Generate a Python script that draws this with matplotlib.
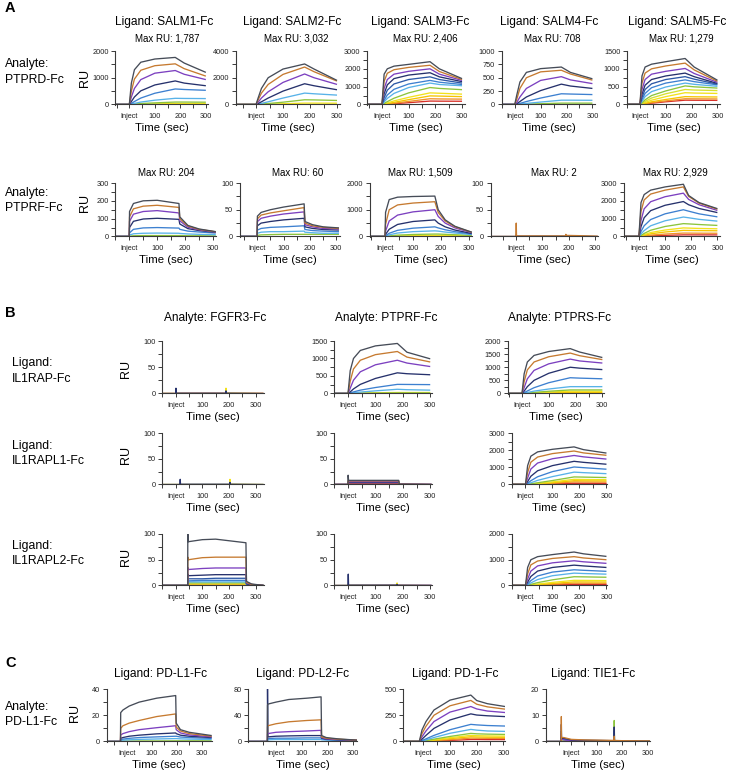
import matplotlib
matplotlib.use('Agg')
import matplotlib.pyplot as plt
from matplotlib.ticker import MultipleLocator, FixedLocator

plt.rcParams['font.family'] = ['Liberation Sans', 'DejaVu Sans']

W, H = 739, 771
BASELINE = 0

PAL = {'k': '#464c58', 'o': '#c67a30', 'p': '#7c40c0', 'n': '#26316c', 'd': '#2d58a6',
       'b': '#3d80d0', 'l': '#58b2e8', 'g': '#8cc43c', 'v': '#d6e030', 'y': '#f2e21c',
       'u': '#f5c400', 'r': '#f0932a', 'R': '#d83028', 'D': '#a01818'}

# ---------------- data: section A (analyte PTPRD-Fc) ----------------
t_kin = [0, 8, 20, 45, 100, 180, 215, 300]
t_kin5 = [0, 8, 20, 45, 100, 175, 210, 300]

salm1_ptprd = [
    [0, 800, 1300, 1580, 1700, 1760, 1550, 1200],
    [0, 500, 950, 1280, 1450, 1520, 1340, 1060],
    [0, 280, 600, 930, 1170, 1270, 1130, 930],
    [0, 110, 280, 510, 730, 880, 800, 700],
    [0, 40, 110, 240, 420, 580, 560, 530],
    [0, 15, 40, 90, 160, 230, 225, 220],
    [0, 6, 15, 35, 60, 90, 90, 85],
    [0, 2, 5, 12, 22, 35, 35, 35]]
salm2_ptprd = [
    [0, 500, 1200, 2000, 2650, 3030, 2650, 1800],
    [0, 350, 850, 1500, 2250, 2800, 2450, 1750],
    [0, 180, 480, 950, 1650, 2280, 2000, 1500],
    [0, 70, 200, 480, 1000, 1550, 1400, 1100],
    [0, 30, 80, 200, 480, 850, 800, 700],
    [0, 10, 30, 70, 170, 350, 340, 300],
    [0, 3, 10, 25, 55, 100, 100, 95]]
salm3_ptprd = [
    [0, 1700, 2000, 2150, 2250, 2400, 2000, 1450],
    [0, 1300, 1750, 1950, 2080, 2200, 1850, 1400],
    [0, 900, 1400, 1700, 1860, 2000, 1700, 1350],
    [0, 600, 1100, 1450, 1650, 1780, 1550, 1280],
    [0, 380, 800, 1150, 1400, 1550, 1400, 1200],
    [0, 230, 530, 850, 1150, 1350, 1250, 1120],
    [0, 140, 340, 620, 950, 1200, 1120, 1050],
    [0, 60, 160, 350, 650, 950, 900, 830],
    [0, 30, 85, 200, 400, 650, 630, 580],
    [0, 18, 50, 120, 270, 480, 470, 440],
    [0, 10, 30, 70, 170, 320, 310, 300],
    [0, 6, 16, 40, 100, 190, 185, 180]]
salm4_ptprd = [
    [0, 180, 420, 600, 670, 700, 600, 480],
    [0, 100, 300, 500, 610, 640, 570, 455],
    [0, 40, 140, 300, 450, 520, 460, 390],
    [0, 15, 55, 140, 260, 380, 345, 300],
    [0, 5, 20, 55, 120, 200, 195, 185],
    [0, 2, 7, 20, 45, 80, 80, 78],
    [0, 1, 2, 6, 14, 25, 25, 25]]
salm5_ptprd = [
    [0, 800, 1050, 1130, 1200, 1290, 1050, 680],
    [0, 600, 880, 1000, 1080, 1160, 970, 650],
    [0, 420, 700, 850, 930, 1010, 870, 620],
    [0, 290, 540, 700, 800, 880, 780, 590],
    [0, 200, 420, 580, 700, 780, 710, 570],
    [0, 140, 310, 470, 600, 690, 640, 550],
    [0, 90, 220, 360, 490, 600, 565, 510],
    [0, 50, 130, 250, 380, 520, 495, 460],
    [0, 32, 85, 180, 300, 420, 405, 390],
    [0, 20, 55, 120, 220, 330, 320, 310],
    [0, 12, 32, 75, 140, 220, 215, 210],
    [0, 8, 22, 50, 100, 160, 158, 155],
    [0, 5, 14, 35, 75, 120, 118, 115]]

# ---------------- data: section A (analyte PTPRF-Fc) ----------------
t_sq = [0, 1, 15, 50, 100, 178, 181, 210, 250, 310]
t_sq3 = [0, 2, 15, 45, 100, 178, 190, 215, 250, 310]
t_s4 = [0, 1, 2, 188, 189, 190, 240, 310]
t_s5 = [0, 8, 20, 45, 100, 170, 190, 230, 300]

salm1_ptprf = [
    [0, 140, 185, 200, 203, 185, 110, 62, 42, 27],
    [0, 110, 155, 170, 175, 163, 100, 58, 40, 26],
    [0, 85, 125, 140, 145, 132, 88, 52, 37, 25],
    [0, 50, 85, 98, 102, 96, 70, 44, 33, 23],
    [0, 20, 40, 48, 50, 47, 40, 30, 25, 19],
    [0, 8, 15, 18, 19, 18, 17, 14, 12, 10],
    [0, 2, 4, 5, 5, 5, 5, 4, 4, 3]]
salm2_ptprf = [
    [0, 38, 45, 50, 55, 61, 28, 22, 18, 16],
    [0, 33, 40, 44, 48, 54, 25, 20, 17, 15],
    [0, 28, 34, 38, 42, 46, 22, 18, 15, 14],
    [0, 20, 25, 28, 31, 34, 18, 15, 13, 12],
    [0, 12, 15, 17, 18, 20, 13, 11, 10, 9],
    [0, 6, 8, 9, 9, 10, 8, 7, 6, 6],
    [0, 2, 3, 3.5, 4, 4, 4, 4, 4, 4]]
salm3_ptprf = [
    [0, 900, 1380, 1470, 1495, 1510, 1000, 620, 380, 160],
    [0, 450, 1000, 1180, 1250, 1300, 900, 580, 360, 155],
    [0, 200, 580, 800, 920, 1000, 750, 500, 320, 140],
    [0, 80, 270, 450, 560, 620, 500, 360, 240, 110],
    [0, 30, 120, 230, 310, 360, 320, 250, 180, 90],
    [0, 15, 60, 130, 180, 210, 200, 165, 130, 70],
    [0, 5, 20, 50, 75, 90, 90, 80, 65, 40],
    [0, 2, 8, 20, 30, 40, 40, 37, 32, 22]]
salm4_ptprf = [
    [0, 25, 1, 1, 4, 2, 1.5, 0.5],
    [0, 3, 0.5, 0.5, 2, 1, 0.5, 0]]
salm5_ptprf = [
    [0, 1900, 2350, 2600, 2780, 2930, 2300, 1900, 1560],
    [0, 1400, 2050, 2380, 2600, 2780, 2250, 1870, 1530],
    [0, 900, 1550, 1950, 2230, 2430, 2080, 1780, 1460],
    [0, 550, 1050, 1450, 1750, 1960, 1780, 1570, 1340],
    [0, 280, 600, 950, 1270, 1500, 1420, 1270, 1100],
    [0, 140, 330, 600, 880, 1090, 1050, 960, 860],
    [0, 60, 170, 350, 560, 720, 705, 670, 620],
    [0, 35, 100, 220, 360, 480, 470, 450, 430],
    [0, 22, 65, 150, 250, 340, 335, 328, 320],
    [0, 10, 32, 75, 135, 190, 188, 184, 180],
    [0, 4, 14, 32, 62, 90, 90, 89, 88]]

# ---------------- data: section B ----------------
t_f1 = [0, 1, 2, 188, 189, 190, 330]
t_f2 = [16, 17, 18, 203, 204, 205, 330]
t_f3 = [45, 45.5, 47, 100, 150, 264, 266, 285, 330]
t_p2 = [0, 0.5, 2, 185, 187, 305]
t_p3 = [0, 1, 2, 178, 179, 180, 305]

fgfr3_il1rap = [
    [0, 10, 0.5, 0.5, 5, 0.5, 0],
    [0, 2, 0, 0, 10, 0.5, 0],
    [0, 1, 0.3, 0.3, 1, 0.3, 0.2]]
ptprf_il1rap = [
    [0, 650, 1000, 1230, 1360, 1430, 1180, 990],
    [0, 350, 700, 950, 1110, 1200, 1040, 900],
    [0, 150, 380, 620, 820, 950, 870, 770],
    [0, 45, 130, 260, 430, 590, 565, 535],
    [0, 15, 45, 95, 170, 260, 258, 253],
    [0, 6, 18, 40, 75, 120, 108, 95],
    [0, 1, 3, 7, 11, 15, 15, 15],
    [0, 2, 6, 12, 20, 28, 28, 28]]
ptprs_il1rap = [
    [0, 750, 1200, 1450, 1600, 1710, 1580, 1370],
    [0, 450, 900, 1200, 1400, 1540, 1440, 1290],
    [0, 220, 560, 880, 1130, 1310, 1240, 1160],
    [0, 90, 260, 500, 770, 1000, 965, 910],
    [0, 30, 95, 220, 410, 600, 585, 560],
    [0, 12, 38, 90, 170, 260, 260, 260],
    [0, 5, 15, 40, 85, 135, 135, 135],
    [0, 3, 10, 25, 55, 85, 85, 85],
    [0, 1, 4, 10, 25, 40, 40, 40]]
fgfr3_il1rapl1 = [
    [0, 10, 0.5, 0.5, 4, 0.5, 0],
    [0, 2, 0, 0, 10, 0.5, 0]]
ptprf_il1rapl1 = [
    [0, 18, 8, 8, 0.5, 0],
    [0, 8, 7, 7, 0.5, 0],
    [0, 6, 5.5, 5.5, 0.5, 0],
    [0, 5, 4.5, 4.5, 0.5, 0],
    [0, 4, 3.5, 3.5, 0.3, 0],
    [0, 2.5, 2, 2, 0.2, 0]]
ptprs_il1rapl1 = [
    [0, 1100, 1650, 1900, 2050, 2190, 2030, 1830],
    [0, 700, 1300, 1600, 1800, 1950, 1840, 1700],
    [0, 380, 900, 1250, 1500, 1690, 1610, 1480],
    [0, 170, 480, 800, 1100, 1350, 1290, 1180],
    [0, 70, 220, 450, 750, 1020, 980, 890],
    [0, 30, 100, 240, 460, 720, 690, 630],
    [0, 12, 40, 100, 230, 440, 430, 405],
    [0, 7, 25, 60, 150, 300, 290, 278],
    [0, 5, 17, 42, 110, 220, 215, 210],
    [0, 3, 11, 27, 70, 150, 145, 140],
    [0, 1, 5, 13, 35, 75, 73, 70],
    [0, 1, 3, 7, 18, 37, 36, 35]]
fgfr3_il1rapl2 = [
    [0, 100, 85, 89, 90, 83, 8, 3, 0],
    [0, 55, 50, 54, 55, 55, 6, 2, 0],
    [0, 35, 31, 33, 34, 34, 5, 2, 0],
    [0, 22, 19, 20, 21, 21, 4, 1, 0],
    [0, 15, 13, 13, 14, 14, 3, 1, 0],
    [0, 11, 9, 10, 10, 10, 3, 1, 0],
    [0, 8, 7, 7, 7, 7, 2, 1, 0],
    [0, 6, 5, 5, 5, 5, 2, 1, 0],
    [0, 4, 3, 3, 3, 3, 1, 0, 0],
    [0, 3, 2, 2, 2, 2, 1, 0, 0],
    [0, 2, 1, 1, 1, 1, 0, 0, 0]]
ptprf_il1rapl2 = [
    [0, 22, 0.5, 0.5, 2, 0.3, 0],
    [0, 3, 0.3, 0.3, 5, 0.3, 0],
    [0, 2, 0.5, 0.8, 1, 0.8, 0.6]]
ptprs_il1rapl2 = [
    [0, 700, 1000, 1120, 1200, 1300, 1230, 1130],
    [0, 450, 800, 950, 1050, 1120, 1070, 1000],
    [0, 250, 560, 760, 880, 960, 920, 860],
    [0, 130, 350, 560, 700, 790, 760, 700],
    [0, 60, 190, 370, 520, 610, 590, 550],
    [0, 30, 100, 230, 380, 480, 465, 440],
    [0, 12, 45, 110, 220, 340, 335, 320],
    [0, 6, 22, 55, 120, 200, 198, 190],
    [0, 4, 14, 35, 80, 140, 138, 135],
    [0, 3, 9, 22, 50, 90, 88, 86],
    [0, 1, 5, 12, 28, 50, 50, 49],
    [0, 1, 3, 7, 15, 28, 28, 27]]

# ---------------- data: section C (analyte PD-L1-Fc) ----------------
t_c1 = [-25, -24, -15, 10, 50, 120, 196, 198, 215, 250, 340]
t_c2 = [-33, -32.5, -31, 0, 50, 120, 175, 177, 195, 240, 315]
t_c3 = [-15, -5, 10, 40, 100, 178, 200, 240, 306]
t_c4 = [-40, -39.5, -39, -30, 0, 50, 168, 169, 170, 200, 310]

pdl1_pdl1 = [
    [0, 22, 24, 27, 30, 33, 35, 14, 9, 7, 4.5],
    [0, 10, 12, 14, 16, 19, 21, 11, 8, 6, 4],
    [0, 5, 6, 7.5, 9, 10.5, 12, 9, 6.5, 5, 3.5],
    [0, 2.5, 3, 4, 4.8, 5.8, 6.5, 6, 4.8, 4, 3],
    [0, 1.5, 1.8, 2.4, 3, 3.5, 4, 4, 3.4, 3, 2.3],
    [0, 0.8, 1, 1.3, 1.6, 1.9, 2.2, 2.2, 2, 1.8, 1.5],
    [0, 0.2, 0.3, 0.3, 0.4, 0.4, 0.5, 0.5, 0.5, 0.5, 0.5]]
pdl2_pdl1 = [
    [0, 55, 57, 60, 64, 66, 68, 9, 6, 4, 2],
    [0, 22, 24, 27, 30, 32, 33, 7, 5, 3.5, 2],
    [0, 11, 12, 14, 15, 16, 17, 6, 4, 3, 1.8],
    [0, 80, 7, 8, 8.5, 9, 9, 5, 3.5, 2.5, 1.5],
    [0, 4, 4.5, 5, 5, 5.5, 5.5, 4, 3, 2, 1.2],
    [0, 2, 2.5, 3, 3, 3, 3, 2.5, 2, 1.5, 1]]
pd1_pdl1 = [
    [0, 110, 190, 300, 394, 442, 390, 360, 333],
    [0, 75, 145, 250, 340, 391, 355, 330, 308],
    [0, 45, 100, 190, 280, 333, 310, 290, 276],
    [0, 22, 58, 125, 205, 263, 252, 245, 237],
    [0, 9, 25, 58, 112, 163, 158, 152, 147],
    [0, 5, 15, 38, 78, 115, 108, 100, 96],
    [0, 3, 9, 22, 48, 77, 73, 70, 67],
    [0, 2, 6, 16, 36, 58, 55, 53, 51],
    [0, 1.5, 4.5, 11, 27, 45, 43, 41, 40],
    [0, 1, 3, 7, 17, 32, 31, 30, 29],
    [0, 0.5, 1.5, 4, 10, 19, 19, 18, 18]]
tie1_pdl1 = [
    [0, 9.5, 1.5, 1.5, 0.8, 0.6, 0.4, 2, 0.4, 0.3, 0.2],
    [0, 6.5, 1.2, 1.2, 0.6, 0.5, 0.3, 5.5, 0.3, 0.2, 0.1],
    [0, 3, 0.8, 0.6, 0.3, 0.2, 0.2, 1, 0.2, 0.1, 0],
    [0, 4, 1, 0.8, 0.4, 0.3, 0.2, 4, 0.2, 0.1, 0],
    [0, 2, 0.5, 0.5, 0.3, 0.2, 0.2, 8, 0.2, 0.1, 0.1]]

ligands_a = ['SALM1-Fc', 'SALM2-Fc', 'SALM3-Fc', 'SALM4-Fc', 'SALM5-Fc']
maxru_ptprd = ['1,787', '3,032', '2,406', '708', '1,279']
maxru_ptprf = ['204', '60', '1,509', '2', '2,929']
analytes_b = ['FGFR3-Fc', 'PTPRF-Fc', 'PTPRS-Fc']
ligands_b = ['IL1RAP-Fc', 'IL1RAPL1-Fc', 'IL1RAPL2-Fc']
ligands_c = ['PD-L1-Fc', 'PD-L2-Fc', 'PD-1-Fc', 'TIE1-Fc']

# ---------------- drawing ----------------
fig = plt.figure(figsize=(W / 100, H / 100), dpi=100)
fig.patch.set_facecolor('white')

AX_COL = '#3a3a3a'


def ftext(x, y, s, **kw):
    kw.setdefault('ha', 'center')
    kw.setdefault('va', 'center')
    return fig.text(x / W, 1 - y / H, s, **kw)


def panel(x0, x1, y0, y1, xlim, ymax, ymaj, ymin, t, curves, cols):
    ax = fig.add_axes([x0 / W, 1 - y1 / H, (x1 - x0) / W, (y1 - y0) / H])
    ax.patch.set_alpha(0)
    for v, c in reversed(list(zip(curves, cols))):
        ax.plot([xlim[0] - 5] + list(t), [BASELINE] + list(v), color=PAL[c],
                lw=0.95, solid_joinstyle='round', solid_capstyle='butt')
    ax.set_xlim(*xlim)
    ax.set_ylim(-0.01 * ymax, ymax)
    for s in ['top', 'right']:
        ax.spines[s].set_visible(False)
    ax.spines['bottom'].set_position(('data', 0))
    for s in ['left', 'bottom']:
        ax.spines[s].set_color(AX_COL)
        ax.spines[s].set_linewidth(0.8)
    ax.xaxis.set_major_locator(FixedLocator([0, 100, 200, 300]))
    ax.set_xticklabels(['Inject', '100', '200', '300'])
    ax.xaxis.set_minor_locator(FixedLocator([m for m in (-50, 50, 150, 250) if m >= xlim[0]]))
    ax.yaxis.set_major_locator(MultipleLocator(ymaj))
    if ymin:
        ax.yaxis.set_minor_locator(MultipleLocator(ymin))
    ax.tick_params(which='both', direction='out', length=2.6, width=0.7, color=AX_COL,
                   labelsize=5.3, pad=2.2, labelcolor='#222222')
    ax.tick_params(axis='x', which='both', pad=3.2)
    ax.set_ylim(-0.01 * ymax, ymax)
    ftext((x0 + x1) / 2, y1 + 23, 'Time (sec)', fontsize=8.2)
    return ax


# Section A, row 1
ya1 = (51, 105)
panel(115.3, 208.4, *ya1, (-55, 310), 2000, 1000, 500, t_kin, salm1_ptprd, 'kopnblgy')
panel(235.8, 339.7, *ya1, (-75, 310), 4000, 2000, 1000, t_kin, salm2_ptprd, 'kopnlgy')
panel(367.3, 464.7, *ya1, (-55, 310), 3000, 1000, 500, t_kin, salm3_ptprd, 'kopndblgyurR')
panel(501.8, 595.0, *ya1, (-50, 310), 1000, 250, None, t_kin, salm4_ptprd, 'kopnblg')
panel(627.0, 720.0, *ya1, (-50, 310), 1500, 500, 250, t_kin5, salm5_ptprd, 'kopndblgvyurR')

# Section A, row 2
ya2 = (183, 237)
panel(115.3, 215.8, *ya2, (-50, 310), 300, 100, 50, t_sq, salm1_ptprf, 'kopnblg')
panel(240.0, 339.5, *ya2, (-65, 312), 100, 50, 25, t_sq, salm2_ptprf, 'kopnblg')
panel(369.6, 471.8, *ya2, (-55, 310), 2000, 1000, 500, t_sq3, salm3_ptprf, 'kopnblgy')
panel(490.9, 597.8, *ya2, (-95, 310), 100, 50, 25, t_s4, salm4_ptprf, 'on')
panel(624.0, 720.0, *ya2, (-57, 310), 3000, 1000, 500, t_s5, salm5_ptprf, 'kopnblgyurR')

centers_a_title = [164.5, 292.5, 420, 549, 677]
centers_a_max1 = [167.5, 296, 425, 552, 681]
centers_a_max2 = [166, 297.5, 420, 554, 675.5]
for i, lig in enumerate(ligands_a):
    ftext(centers_a_title[i], 22, 'Ligand: ' + lig, fontsize=8.6)
    ftext(centers_a_max1[i], 38.5, 'Max RU: ' + maxru_ptprd[i], fontsize=7)
    ftext(centers_a_max2[i], 172.5, 'Max RU: ' + maxru_ptprf[i], fontsize=7)

ftext(5, 8, 'A', fontsize=10.5, fontweight='bold', ha='left')
ftext(5, 64, 'Analyte:', fontsize=8.8, ha='left')
ftext(5, 80, 'PTPRD-Fc', fontsize=8.8, ha='left')
ftext(5, 193, 'Analyte:', fontsize=8.8, ha='left')
ftext(5, 208, 'PTPRF-Fc', fontsize=8.8, ha='left')
ftext(85, 78, 'RU', fontsize=9, rotation=90)
ftext(85, 203, 'RU', fontsize=9, rotation=90)

# Section B
yb = [(341, 394), (433, 485), (534, 586)]
c1 = (162.4, 263.5, (-50, 330))
c2 = (334.3, 431.6, (-50, 305))
panel(c1[0], c1[1], *yb[0], c1[2], 100, 50, 25, t_f1, fgfr3_il1rap, 'nyR')
panel(c2[0], c2[1], *yb[0], c2[2], 1500, 500, 250, t_kin, ptprf_il1rap, 'kopnblgy')
panel(507.8, 603.7, *yb[0], (-53, 305), 2000, 500, 250, t_kin, ptprs_il1rap, 'kopnblgyu')
panel(c1[0], c1[1], *yb[1], c1[2], 100, 50, 25, t_f2, fgfr3_il1rapl1, 'ny')
panel(c2[0], c2[1], *yb[1], c2[2], 100, 50, 25, t_p2, ptprf_il1rapl1, 'kopnbR')
panel(511.7, 607.0, *yb[1], (-51, 302), 3000, 1000, 500, t_kin, ptprs_il1rapl1, 'kopnblgyurRD')
panel(c1[0], c1[1], *yb[2], c1[2], 100, 50, 25, t_f3, fgfr3_il1rapl2, 'kopndblgyrR')
panel(c2[0], c2[1], *yb[2], c2[2], 100, 50, 25, t_p3, ptprf_il1rapl2, 'nyp')
panel(511.7, 607.0, *yb[2], (-51, 302), 2000, 1000, 500, t_kin, ptprs_il1rapl2, 'kopnblgyurRD')

ftext(5, 313, 'B', fontsize=10.5, fontweight='bold', ha='left')
for xc, an in zip([215, 386, 560], analytes_b):
    ftext(xc, 318, 'Analyte: ' + an, fontsize=8.6)
for (ya, yb_), lig in zip([(363, 379), (446, 461), (546, 561)], ligands_b):
    ftext(12, ya, 'Ligand:', fontsize=8.8, ha='left')
    ftext(12, yb_, lig, fontsize=8.8, ha='left')
for yr in [369, 455, 557]:
    ftext(126, yr, 'RU', fontsize=9, rotation=90)

# Section C
yc = (689, 742)
panel(106.7, 211.7, *yc, (-80, 340), 40, 20, 10, t_c1, pdl1_pdl1, 'kopnblg')
panel(248.3, 357.2, *yc, (-107, 315), 80, 40, 20, t_c2, pdl2_pdl1, 'kopnbl')
panel(403.3, 505.0, *yc, (-75, 306), 500, 250, 125, t_c3, pd1_pdl1, 'kopnblgyurR')
panel(546.0, 650.0, *yc, (-100, 310), 20, 10, 5, t_c4, tie1_pdl1, 'onpbg')

ftext(5, 663, 'C', fontsize=10.5, fontweight='bold', ha='left')
for xc, lig in zip([161, 303, 455, 593], ligands_c):
    ftext(xc, 674, 'Ligand: ' + lig, fontsize=8.6)
ftext(5, 707, 'Analyte:', fontsize=8.8, ha='left')
ftext(5, 722, 'PD-L1-Fc', fontsize=8.8, ha='left')
ftext(75, 713, 'RU', fontsize=9, rotation=90)

fig.savefig('out.png', dpi=100, facecolor='white')
